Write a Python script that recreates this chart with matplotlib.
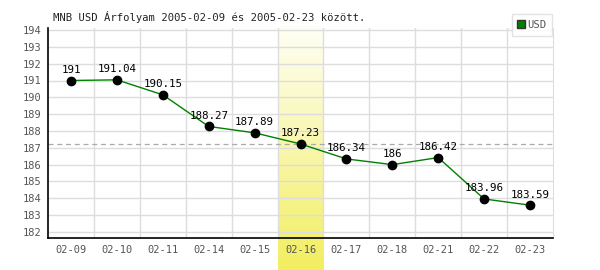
import matplotlib
matplotlib.use("Agg")
import matplotlib.pyplot as plt
import numpy as np
from matplotlib.colors import LinearSegmentedColormap
from matplotlib.lines import Line2D

dates = ["02-09", "02-10", "02-11", "02-14", "02-15", "02-16",
         "02-17", "02-18", "02-21", "02-22", "02-23"]
usd = [191.00, 191.04, 190.15, 188.27, 187.89, 187.23,
       186.34, 186.00, 186.42, 183.96, 183.59]
labels = ["191", "191.04", "190.15", "188.27", "187.89", "187.23",
          "186.34", "186", "186.42", "183.96", "183.59"]
highlight = "02-16"
yticks = list(range(182, 195))
title = "MNB USD Árfolyam 2005-02-09 és 2005-02-23 között."

mono = "DejaVu Sans Mono"
fig = plt.figure(figsize=(6, 2.7), dpi=100)
ax = fig.add_axes([48/600, 1-238/270, (553-48)/600, (238-28)/270])
ax.patch.set_alpha(0)

n = len(dates)
x = np.arange(n)
ax.set_xlim(-0.5, n-0.5)
ymin, ymax = 181.64, 194.12
ax.set_ylim(ymin, ymax)

for yv in yticks:
    ax.axhline(yv, color="#dddddd", lw=1, zorder=1)
for xv in x[:-1] + 0.5:
    ax.axvline(xv, color="#dddddd", lw=1, zorder=1)

hi = dates.index(highlight)
fig.canvas.draw()
inv = ax.transData.inverted()
_, ybot = inv.transform(fig.transFigure.transform((0, 0)))
_, ytop = inv.transform(ax.transData.transform((0, ymax)) + np.array([0, 2]))
cmap = LinearSegmentedColormap.from_list("hl", ["#fffff6", "#f2ee60"])
grad = np.linspace(0, 1, 256).reshape(-1, 1)
ax.imshow(grad, extent=(hi-0.5, hi+0.5, ybot, ytop), aspect="auto",
          cmap=cmap, origin="upper", clip_on=False, zorder=0.5)
ax.set_xlim(-0.5, n-0.5)
ax.set_ylim(ymin, ymax)

ax.axhline(usd[hi], color="#aaaaaa", lw=0.9, ls=(0, (4, 3)), zorder=2)

ax.plot(x, usd, color="#008000", lw=1, zorder=3)
ax.plot(x, usd, "o", color="black", ms=6, zorder=4)
for xi, yi, lab in zip(x, usd, labels):
    ax.annotate(lab, (xi, yi), xytext=(0, 4), textcoords="offset points",
                ha="center", va="bottom", fontsize=7.8, family=mono,
                color="black", zorder=5)

ax.set_xticks(x)
ax.set_xticklabels(dates)
ax.set_yticks(yticks)
ax.tick_params(length=0, pad=5, labelsize=7.5, labelcolor="#555555")
for lab in ax.get_xticklabels() + ax.get_yticklabels():
    lab.set_family(mono)

ax.spines["top"].set_visible(False)
ax.spines["right"].set_color("#dddddd")
ax.spines["left"].set_color("black")
ax.spines["bottom"].set_color("black")
ax.spines["left"].set_linewidth(1.2)
ax.spines["bottom"].set_linewidth(1.2)
ax.spines["bottom"].set_zorder(6)

fig.text(53/600, 1-17/270, title, fontsize=7.6, family=mono,
         color="#222222", ha="left", va="center")

h = Line2D([], [], marker="s", ls="none", markerfacecolor="#008000",
           markeredgecolor="#333333", markersize=6)
leg = fig.legend([h], ["USD"], loc="upper right",
                 bbox_to_anchor=(552/600, 1-14/270), borderaxespad=0,
                 frameon=True, fancybox=False, handlelength=0.6,
                 handletextpad=0.3, borderpad=0.55,
                 prop={"family": mono, "size": 7.6})
leg.get_frame().set_edgecolor("#dddddd")
leg.get_frame().set_linewidth(1)
for t in leg.get_texts():
    t.set_color("#555555")

fig.savefig("out.png", dpi=100)
